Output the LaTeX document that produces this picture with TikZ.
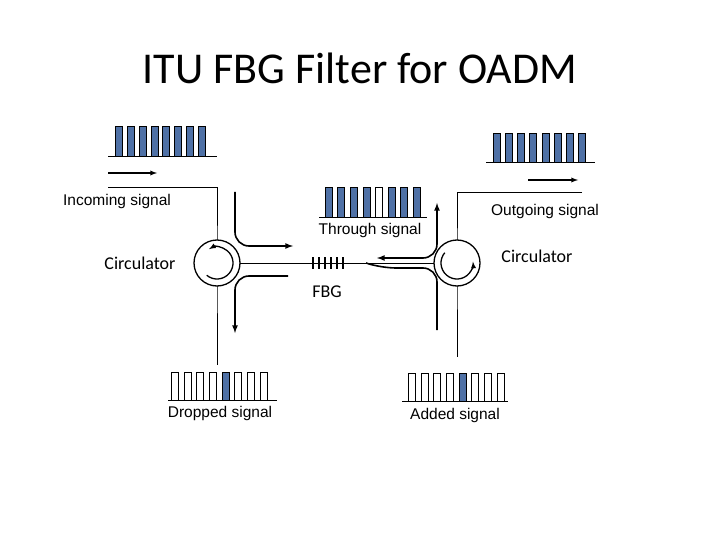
\documentclass[tikz,border=0pt]{standalone}
\usepackage{fontspec}
\setmainfont{Carlito}
\newfontfamily\thinfont{Liberation Sans}
\usetikzlibrary{positioning,arrows}
\definecolor{pulseblue}{HTML}{4F71A6}
\tikzset{
  fiber/.style={thin,black},
  flow/.style={line width=1.6pt,->,>=latex,rounded corners=14pt},
  pulse/.style={draw=black,thin,fill=pulseblue},
  gap/.style={draw=black,thin,fill=white},
  small/.style={font=\thinfont\fontsize{15.5}{15.5}\selectfont},
  big/.style={font=\fontsize{18}{18}\selectfont}
}
% a comb of pulses: x0, y of base, pitch, width, height, empty slot
\newcommand{\comb}[6]{%
  \foreach \k in {1,...,8}{%
    \pgfmathsetmacro{\xx}{#1+(\k-1)*#3}
    \ifnum\k=#6 \def\sty{gap}\else\def\sty{pulse}\fi
    \draw[\sty] (\xx,#2) rectangle ++(#4,-#5);
  }}
\newcommand{\dcomb}[2]{%
  \foreach \k in {1,...,8}{%
    \pgfmathsetmacro{\xx}{#1+(\k-1)*12.7}
    \ifnum\k=5 \def\sty{pulse}\else\def\sty{gap}\fi
    \draw[\sty] (\xx,#2) rectangle ++(7,-28);
  }}
\begin{document}
\begin{tikzpicture}[x=1pt,y=-1pt]
\useasboundingbox (0,0) rectangle (720,540);
\node[font=\fontsize{44}{44}\selectfont] (title) at (360,68) {ITU FBG Filter for OADM};

% fibers
\coordinate (c1) at (217,263);
\coordinate (c2) at (457,263);
\coordinate (inA) at (108,187);
\coordinate (inB) at (217,187);
\coordinate (dropEnd) at (217,365);
\coordinate (outA) at (582,192);
\coordinate (outB) at (457,192);
\coordinate (addEnd) at (457,357);
\draw[fiber] (inA) -- (inB) -- (c1) -- (dropEnd);
\draw[fiber] (outA) -- (outB) -- (c2) -- (addEnd);
\draw[fiber] (c1) -- (c2);

% circulators
\foreach \c in {c1,c2}{
  \draw[line width=1.3pt,fill=white] (\c) circle (23);
}
\draw[line width=1.3pt,->,>=latex] ([shift={(130:16)}]c1) arc (130:-120:16);
\draw[line width=1.3pt,->,>=latex] ([shift={(220:16)}]c2) arc (220:-5:16);
\node[big] (lcirc) at (140,263) {Circulator};
\node[big] (rcirc) at (537,256) {Circulator};

% FBG
\foreach \i in {0,...,5}{
  \draw[line width=2pt] (313+\i*6,257) -- (313+\i*6,269);
}
\node[big] (fbg) at (327,292) {FBG};

% signal flows
\draw[flow] (235,192) -- (235,246) -- (293,246);
\draw[flow] (288,276) -- (235,276) -- (235,333);
\draw[line width=1.6pt,rounded corners=14pt] (437,330) -- (437,268) -- (382,268) [sharp corners]-- (366,263);
\draw[line width=1.6pt,<->,>=latex,rounded corners=14pt] (377,258) -- (437,258) -- (437,203);

% incoming
\comb{115}{156}{11.9}{7}{30}{0}
\draw[fiber] (108,156) -- (217,156);
\draw[line width=1.3pt,->,>=latex] (108,173) -- (157,173);
\node[small] (inlbl) at (117,201) {Incoming signal};

% through
\comb{325}{217}{12.6}{7}{30}{5}
\draw[fiber] (319,217) -- (427,217);
\node[small] (thlbl) at (370,230) {Through signal};

% outgoing
\comb{493}{162}{12.2}{7}{29}{0}
\draw[fiber] (486,162) -- (595,162);
\draw[line width=1.3pt,->,>=latex] (528,180) -- (578,180);
\node[small] (outlbl) at (545,211) {Outgoing signal};

% dropped / added
\dcomb{171}{400}
\draw[fiber] (168,400) -- (277,400);
\node[small] (droplbl) at (220,413) {Dropped signal};
\dcomb{408}{401}
\draw[fiber] (402,401) -- (508,401);
\node[small] (addlbl) at (455,415) {Added signal};
\end{tikzpicture}
\end{document}
